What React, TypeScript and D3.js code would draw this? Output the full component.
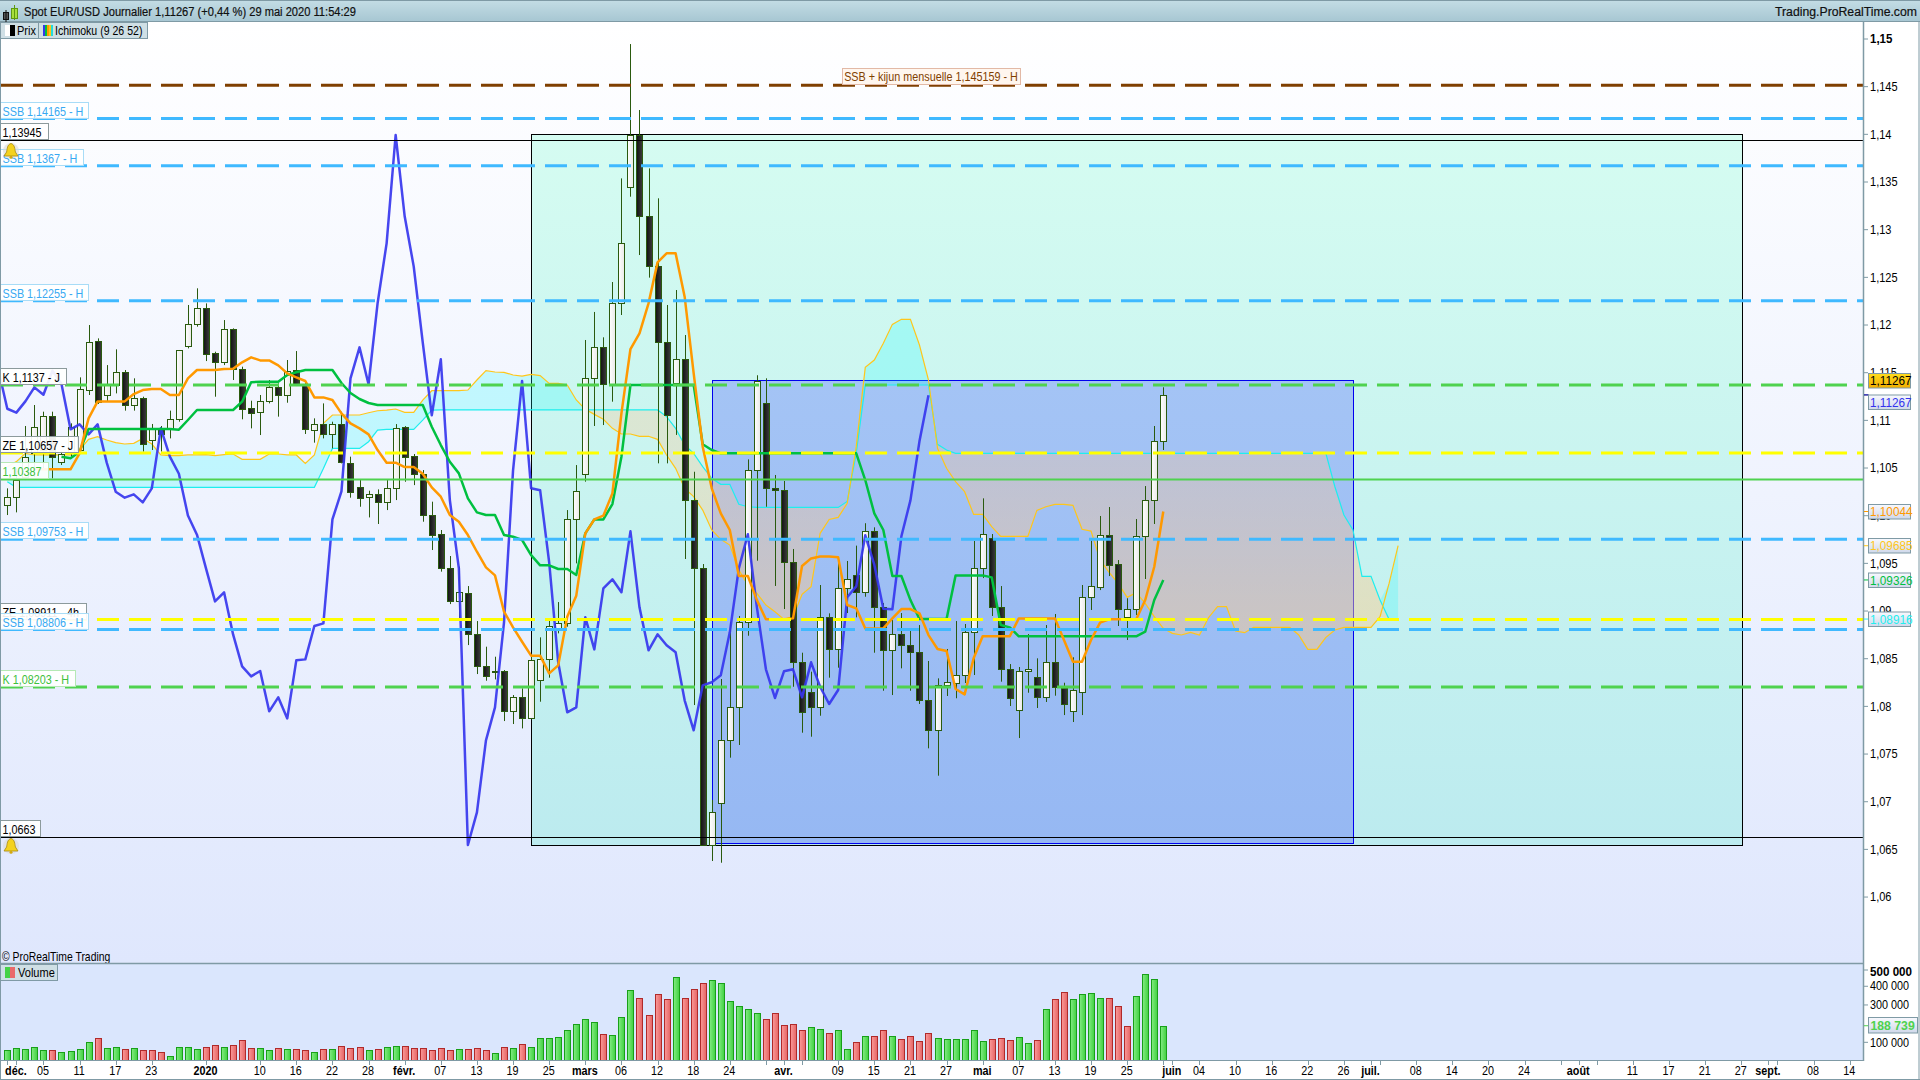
import React from "react";
import * as d3 from "d3";

const opens = [1.10109,1.10199,1.10409,1.10654,1.10689,1.11046,1.10563,1.10654,1.10689,1.11318,1.11829,1.11266,1.11371,1.11511,1.11158,1.11231,1.10794,1.10916,1.10909,1.11011,1.11783,1.12007,1.12175,1.11703,1.11609,1.11955,1.11535,1.11126,1.11091,1.11199,1.11346,1.11269,1.11528,1.11381,1.10902,1.10958,1.10853,1.10958,1.10549,1.10297,1.10192,1.10224,1.1014,1.10287,1.10926,1.10622,1.1044,1.10003,1.09804,1.09448,1.09101,1.09185,1.08755,1.0842,1.08364,1.08367,1.07948,1.08095,1.07874,1.08273,1.08493,1.08801,1.08871,1.09961,1.10434,1.11441,1.11766,1.11378,1.12227,1.13444,1.13993,1.1314,1.12615,1.11818,1.11388,1.1164,1.10165,1.09448,1.06546,1.06983,1.07644,1.0799,1.08882,1.10476,1.11179,1.10287,1.10266,1.09511,1.08462,1.08148,1.0799,1.08934,1.08598,1.09238,1.09375,1.09197,1.09836,1.09039,1.08588,1.08756,1.08641,1.08567,1.08064,1.07749,1.08221,1.08242,1.08326,1.08777,1.09448,1.09763,1.09039,1.08389,1.07962,1.08368,1.08305,1.08095,1.08462,1.0819,1.07951,1.08154,1.09144,1.09255,1.09794,1.0949,1.08941,1.09018,1.09784,1.10161,1.1078];
const highs = [1.10287,1.10497,1.10941,1.11161,1.11091,1.11091,1.10672,1.10969,1.11451,1.12,1.1186,1.1158,1.11745,1.11528,1.11441,1.11248,1.10962,1.10941,1.11102,1.11738,1.1221,1.12385,1.12227,1.1172,1.12052,1.11965,1.11563,1.11206,1.11266,1.11423,1.11388,1.11633,1.11727,1.11406,1.11021,1.11178,1.10986,1.11091,1.10619,1.10381,1.10262,1.10276,1.10374,1.10961,1.1094,1.10647,1.10479,1.10147,1.0985,1.09577,1.09465,1.09262,1.08895,1.08626,1.08521,1.08381,1.08119,1.08189,1.08521,1.08724,1.08906,1.09094,1.10059,1.10531,1.11843,1.12137,1.11871,1.12451,1.13538,1.14947,1.14255,1.13643,1.13329,1.1221,1.12367,1.11895,1.10461,1.09493,1.07019,1.08287,1.08885,1.08948,1.10591,1.11473,1.11441,1.10427,1.10364,1.09651,1.08563,1.08364,1.09273,1.08976,1.09535,1.09525,1.09686,1.09921,1.09878,1.09084,1.08906,1.08979,1.08801,1.08853,1.08476,1.08294,1.08602,1.08895,1.08864,1.09735,1.10182,1.09808,1.09262,1.08444,1.08413,1.08759,1.08504,1.08853,1.08969,1.08248,1.08515,1.09273,1.09738,1.09997,1.10091,1.09535,1.09134,1.09965,1.10311,1.10941,1.11347];
const lows = [1.10007,1.10035,1.10374,1.10409,1.10479,1.10392,1.10532,1.10619,1.10654,1.11266,1.11172,1.11196,1.11283,1.11102,1.11102,1.10672,1.10689,1.10672,1.10811,1.10986,1.11755,1.11983,1.11622,1.11248,1.1158,1.11423,1.11011,1.10916,1.10846,1.11178,1.11039,1.11185,1.1136,1.10857,1.10766,1.10811,1.10706,1.10549,1.10189,1.10094,1.09982,1.09913,1.10059,1.10164,1.10356,1.10321,1.09937,1.0964,1.09413,1.09073,1.08906,1.08643,1.08339,1.08269,1.08283,1.07846,1.07815,1.07769,1.07864,1.08049,1.08301,1.08766,1.08836,1.095,1.10357,1.10941,1.10951,1.11196,1.12105,1.13346,1.12734,1.12497,1.10549,1.10549,1.10847,1.09546,1.08014,1.06546,1.06378,1.0636,1.07462,1.07595,1.08741,1.09528,1.10094,1.09263,1.09021,1.08206,1.07724,1.07682,1.07902,1.08301,1.08406,1.08979,1.08934,1.0915,1.08563,1.08164,1.08119,1.08399,1.08164,1.08025,1.0756,1.07273,1.08109,1.08085,1.08245,1.08329,1.09346,1.08948,1.08259,1.08004,1.07668,1.08143,1.07983,1.08046,1.08112,1.07909,1.07836,1.07909,1.09011,1.0922,1.09367,1.08843,1.08696,1.08958,1.09336,1.09913,1.10689];
const closes = [1.10193,1.10374,1.10619,1.10934,1.11046,1.10619,1.10647,1.10927,1.11325,1.11825,1.11192,1.11381,1.11511,1.11158,1.11231,1.10749,1.10909,1.10853,1.11011,1.11734,1.12007,1.12175,1.11699,1.11609,1.11955,1.11535,1.11122,1.11081,1.11199,1.11346,1.11269,1.11521,1.11381,1.10906,1.10958,1.10853,1.10958,1.10559,1.10252,1.10189,1.10224,1.1014,1.10287,1.10916,1.10619,1.1044,1.10003,1.09801,1.09448,1.09101,1.09196,1.08755,1.0842,1.08315,1.08371,1.07948,1.08095,1.07874,1.08483,1.08493,1.08843,1.08871,1.09961,1.10255,1.11441,1.11766,1.11378,1.12227,1.12857,1.13993,1.1314,1.12615,1.11818,1.11053,1.1164,1.10165,1.09448,1.06546,1.06889,1.07644,1.0799,1.08882,1.10476,1.11413,1.10287,1.10266,1.09511,1.08462,1.07938,1.0799,1.08934,1.08598,1.09238,1.09333,1.09197,1.09836,1.09039,1.08588,1.08756,1.08641,1.08567,1.08064,1.07749,1.08221,1.08253,1.08326,1.08777,1.09448,1.09805,1.09039,1.08389,1.08088,1.08368,1.08389,1.08095,1.08462,1.08206,1.08025,1.08172,1.09144,1.09259,1.09794,1.09486,1.09024,1.09018,1.09784,1.10161,1.1078,1.11263];

const tenkan = [1.10486,1.10486,1.10486,1.10486,1.10486,1.10654,1.11021,1.11199,1.11199,1.11199,1.11199,1.11276,1.11318,1.11329,1.11329,1.11266,1.11266,1.11441,1.11528,1.11528,1.11528,1.11539,1.11542,1.11609,1.11661,1.11629,1.11629,1.11577,1.11493,1.11451,1.11413,1.11241,1.11241,1.11213,1.11073,1.10968,1.10916,1.10853,1.10689,1.10556,1.10556,1.1051,1.1051,1.1044,1.10297,1.10199,1.10007,1.09937,1.09797,1.09622,1.09458,1.09374,1.08993,1.08829,1.08678,1.08532,1.08532,1.08346,1.0843,1.08941,1.09161,1.09815,1.09961,1.1,1.10234,1.11074,1.11748,1.11913,1.12227,1.12657,1.12752,1.12752,1.12297,1.11493,1.10724,1.10287,1.10024,1.0985,1.09367,1.09367,1.09115,1.08913,1.08913,1.08913,1.08923,1.09472,1.09552,1.09573,1.09573,1.09563,1.09063,1.09028,1.08818,1.08818,1.08818,1.08923,1.09021,1.09021,1.08976,1.08748,1.08602,1.08581,1.08182,1.08126,1.08504,1.08735,1.08735,1.08735,1.08735,1.08923,1.08923,1.08923,1.08923,1.08923,1.08696,1.08469,1.08469,1.08696,1.08878,1.08913,1.08913,1.08913,1.08913,1.09116,1.09465,1.10044];
const tenkanStart = 3;
const kijun = [1.10619,1.10602,1.10672,1.10909,1.10909,1.10909,1.10909,1.10909,1.10909,1.10909,1.10909,1.10909,1.10909,1.10902,1.11004,1.11109,1.11109,1.11109,1.11109,1.11109,1.11196,1.11399,1.11406,1.11406,1.11406,1.11476,1.11504,1.11528,1.11528,1.11528,1.11528,1.11392,1.11287,1.11224,1.11182,1.11161,1.11161,1.11161,1.11161,1.11161,1.11161,1.10933,1.10741,1.10566,1.10444,1.10182,1.10035,1.10007,1.10007,1.09797,1.0978,1.09745,1.09587,1.09479,1.09479,1.09441,1.09441,1.09378,1.09815,1.09961,1.09961,1.10122,1.10619,1.11371,1.11371,1.11371,1.11371,1.11371,1.11371,1.11371,1.11371,1.10749,1.10689,1.10654,1.10654,1.10654,1.10654,1.10654,1.10654,1.10654,1.10654,1.10654,1.10654,1.10654,1.10654,1.10654,1.10654,1.10654,1.10654,1.10374,1.10024,1.0985,1.09367,1.09367,1.09115,1.08916,1.08916,1.08916,1.08916,1.09374,1.09374,1.09374,1.09374,1.09353,1.08853,1.08829,1.08735,1.08735,1.08735,1.08735,1.08735,1.08735,1.08735,1.08735,1.08735,1.08735,1.08735,1.08735,1.08735,1.08735,1.08783,1.09116,1.09326];
const kijunStart = 6;
const spanA = [1.10514,1.10567,1.10654,1.10637,1.10637,1.10637,1.10637,1.10637,1.10689,1.10801,1.10829,1.10794,1.10766,1.10752,1.10759,1.10811,1.10752,1.10637,1.1063,1.1063,1.10637,1.10637,1.1064,1.1063,1.1064,1.10647,1.10591,1.10591,1.10591,1.10647,1.10647,1.10637,1.10637,1.10549,1.10637,1.10968,1.11056,1.11056,1.11056,1.11056,1.1108,1.11101,1.11108,1.11119,1.11084,1.11084,1.11213,1.11311,1.11311,1.11311,1.11311,1.11318,1.11423,1.11521,1.11507,1.11504,1.11476,1.11465,1.11483,1.11469,1.11388,1.11388,1.11371,1.11214,1.11116,1.11063,1.11011,1.10916,1.10857,1.10857,1.10833,1.10833,1.10801,1.10637,1.10497,1.10287,1.102,1.10059,1.0985,1.09752,1.09692,1.0943,1.09273,1.09185,1.09063,1.08993,1.08913,1.08941,1.09175,1.09255,1.09815,1.09961,1.09982,1.10129,1.10724,1.11556,1.11633,1.11808,1.12007,1.1206,1.1206,1.1179,1.11423,1.10707,1.10497,1.10357,1.10252,1.10014,1.10014,1.09885,1.09783,1.09783,1.09783,1.09783,1.10056,1.10094,1.10119,1.10119,1.10108,1.09857,1.09839,1.09535,1.09406,1.0929,1.09143,1.09192,1.09081,1.08941,1.08818,1.08766,1.08749,1.08776,1.08749,1.0893,1.09046,1.09046,1.0879,1.08773,1.08829,1.08829,1.08829,1.08829,1.08829,1.08749,1.08598,1.08598,1.08724,1.08801,1.08829,1.08829,1.08829,1.08829,1.08941,1.0929,1.09685];
const spanB = [1.10357,1.10298,1.10298,1.10298,1.10298,1.10298,1.10298,1.10298,1.10298,1.10298,1.10298,1.10298,1.10298,1.10298,1.10298,1.10298,1.10298,1.10298,1.10298,1.10298,1.10298,1.10298,1.10298,1.10298,1.10298,1.10298,1.10298,1.10298,1.10298,1.10298,1.10298,1.10298,1.10298,1.10298,1.10298,1.10496,1.10706,1.10706,1.10706,1.10706,1.10776,1.10898,1.10905,1.10905,1.10905,1.10905,1.11003,1.11108,1.11109,1.11109,1.11109,1.11109,1.11109,1.11109,1.11109,1.11109,1.11109,1.11109,1.11109,1.11109,1.11109,1.11109,1.11109,1.11109,1.11109,1.11109,1.11109,1.11109,1.11109,1.11109,1.11109,1.11109,1.11109,1.11039,1.10916,1.10742,1.10654,1.10514,1.10392,1.10329,1.10329,1.10119,1.10094,1.10087,1.10087,1.10087,1.10087,1.10087,1.10087,1.10087,1.10087,1.10087,1.10087,1.1015,1.10654,1.11371,1.11371,1.11371,1.11371,1.11371,1.11371,1.11371,1.11371,1.10749,1.10689,1.10654,1.10654,1.10654,1.10654,1.10654,1.10654,1.10654,1.10654,1.10654,1.10654,1.10654,1.10654,1.10654,1.10654,1.10654,1.10654,1.10654,1.10654,1.10654,1.10654,1.10654,1.10654,1.10654,1.10654,1.10654,1.10654,1.10654,1.10654,1.10654,1.10654,1.10654,1.10654,1.10654,1.10654,1.10654,1.10654,1.10654,1.10654,1.10654,1.10654,1.10654,1.10654,1.10304,1.10007,1.0985,1.09364,1.09364,1.09116,1.08913,1.08916];

const volumes = [59,69,64,75,59,59,48,53,64,102,123,69,75,64,69,59,59,48,27,75,75,64,75,86,75,86,112,69,69,59,69,64,64,59,48,64,64,80,69,75,59,64,75,80,80,69,69,59,69,59,64,64,69,59,43,75,69,91,75,123,123,128,166,198,225,208,144,139,235,380,337,246,358,331,449,337,385,417,433,417,321,294,278,257,225,257,192,198,166,182,171,150,166,64,102,134,134,166,134,118,134,107,150,123,118,118,118,166,107,118,123,112,128,96,112,278,331,369,331,358,364,337,337,294,187,347,465,438,189];
const volumeUp = [1,1,1,1,1,0,1,1,1,1,0,1,1,0,1,0,0,0,1,1,1,1,0,0,1,0,0,0,1,1,0,1,0,0,1,0,1,0,0,0,1,0,1,1,0,0,0,0,0,0,1,0,0,0,1,0,1,0,1,1,1,1,1,1,1,1,0,1,1,1,0,0,0,0,1,0,0,0,1,1,1,1,1,1,0,0,0,0,0,1,1,0,1,1,0,1,0,0,1,0,0,0,0,1,1,1,1,1,1,0,0,0,1,1,0,1,0,0,1,1,1,1,0,0,0,1,1,1,1];

const priceTicks = [1.15,1.145,1.14,1.135,1.13,1.125,1.12,1.115,1.11,1.105,1.1,1.095,1.09,1.085,1.08,1.075,1.07,1.065,1.06];
const priceTickLabels = ["1,15","1,145","1,14","1,135","1,13","1,125","1,12","1,115","1,11","1,105","1,10","1,095","1,09","1,085","1,08","1,075","1,07","1,065","1,06"];
const volumeTicks = [400,300,100];
const volumeTickLabels = ["400 000","300 000","100 000"];
const dateSlots = [1,4,8,12,16,22,28,32,36,40,44,48,52,56,60,64,68,72,76,80,86,92,96,100,104,108,112,116,120,124,129,132,136,140,144,148,151,156,160,164,168,174,180,184,188,192,195,200,204];
const dateLabels = ["déc.","05","11","17","23","2020","10","16","22","28","févr.","07","13","19","25","mars","06","12","18","24","avr.","09","15","21","27","mai","07","13","19","25","juin","04","10","16","22","26","juil.","08","14","20","24","août","11","17","21","27","sept.","08","14"];
const boldDates = ["déc.","2020","févr.","mars","avr.","mai","juin","juil.","août","sept."];
const extraDateTicks = [0,84,88,128,152,172,176,196];

const levels = [
  { value: 1.145159, color: "#7f3f00" },
  { value: 1.14165, color: "#3fb9ff" },
  { value: 1.1367, color: "#3fb9ff" },
  { value: 1.12255, color: "#3fb9ff" },
  { value: 1.1137, color: "#4fd24f" },
  { value: 1.10657, color: "#ffff00" },
  { value: 1.09753, color: "#3fb9ff" },
  { value: 1.08911, color: "#ffff00" },
  { value: 1.08806, color: "#3fb9ff" },
  { value: 1.08203, color: "#4fd24f" },
];
const solidLevels = [
  { value: 1.13945, color: "#000000", w: 1 },
  { value: 1.0663, color: "#000000", w: 1 },
  { value: 1.10387, color: "#4fd24f", w: 2 },
];
const leftLabels = [
  { text: "ZE 1,08911 - 4h", w: 86, bottom: 1.08911, color: "#000", border: "#8c9a9c" },
  { text: "SSB 1,14165 - H", w: 88, bottom: 1.14165, color: "#38a9f2", border: "#a8dcf7" },
  { text: "1,13945", w: 48, bottom: 1.13945, color: "#000", border: "#8c9a9c" },
  { text: "SSB 1,1367 - H", w: 83, bottom: 1.1367, color: "#38a9f2", border: "#a8dcf7" },
  { text: "SSB 1,12255 - H", w: 88, bottom: 1.12255, color: "#38a9f2", border: "#a8dcf7" },
  { text: "K 1,1137 - J", w: 66, bottom: 1.1137, color: "#000", border: "#8c9a9c" },
  { text: "ZE 1,10657 - J", w: 78, bottom: 1.10657, color: "#000", border: "#8c9a9c" },
  { text: "1,10387", w: 48, bottom: 1.10387, color: "#3cc03c", border: "#b5e8b5" },
  { text: "SSB 1,09753 - H", w: 88, bottom: 1.09753, color: "#38a9f2", border: "#a8dcf7" },
  { text: "SSB 1,08806 - H", w: 88, bottom: 1.08806, color: "#38a9f2", border: "#a8dcf7" },
  { text: "K 1,08203 - H", w: 75, bottom: 1.08203, color: "#3cc03c", border: "#b5e8b5" },
  { text: "1,0663", w: 40, bottom: 1.0663, color: "#000", border: "#8c9a9c" },
];
const valueBoxes = [
  { text: "1,11267", value: 1.11267, top: 373, color: "#000", fill: "url(#goldBox)" },
  { text: "1,11267", value: 1.11267, top: 394.5, color: "#3333ee", fill: "url(#paleBox)" },
  { text: "1,10044", value: 1.10044, top: 504, color: "#ff9900", fill: "url(#paleBox)" },
  { text: "1,09685", value: 1.09685, top: 538, color: "#ffc61a", fill: "url(#paleBox)" },
  { text: "1,09326", value: 1.09326, top: 572.5, color: "#00c040", fill: "url(#paleBox)" },
  { text: "1,08916", value: 1.08916, top: 611.5, color: "#22eeee", fill: "url(#paleBox)" },
];

const FONT = "'Liberation Sans', Arial, sans-serif";
const GRAY = "#7f9aa5";

const x = d3.scaleLinear().domain([0, 128]).range([7.3, 1163.3]);
const y = d3.scaleLinear().domain([1.15, 1.06]).range([39, 897.06]);
const yVol = d3.scaleLinear().domain([0, 500]).range([1061, 967.6]);
const px = (v: number) => Math.round(x(v)) + 0.5;
const snap = (v: number) => Math.floor(x(v)) + 0.5;
const py = (v: number) => Math.round(y(v)) + 0.5;

function T({ x: tx, y: ty, s, fill = "#000", bold = false, anchor = "start", sx = 0.92, size = 12 }: any) {
  return (
    <text
      transform={`translate(${tx},${ty}) scale(${sx},1)`}
      fontFamily={FONT}
      fontSize={size}
      fill={fill}
      fontWeight={bold ? 700 : 400}
      textAnchor={anchor}
      dominantBaseline="central"
    >
      {s}
    </text>
  );
}

function Bell({ cx, cy }: { cx: number; cy: number }) {
  return (
    <g transform={`translate(${cx},${cy})`}>
      <circle r={8} fill="#d8d8d8" opacity={0.6} />
      <path d="M0,-7.5 C-3.8,-6.5 -3.8,-2 -4.4,1 L-7,5 L7,5 L4.4,1 C3.8,-2 3.8,-6.5 0,-7.5 Z" fill="#f4d21f" stroke="#a88a10" strokeWidth={0.8} />
      <circle cy={6.2} r={1.5} fill="#d4a90f" />
    </g>
  );
}

export default function App() {
  const series = (vals: number[], start: number) =>
    d3.line<number>().x((_, i) => x(i + start)).y((d) => y(d))(vals) || "";
  const bull = d3.area<number>().x((_, i) => x(i)).y0((_, i) => y(spanB[i])).y1((d, i) => y(Math.max(d, spanB[i])))(spanA) || "";
  const bear = d3.area<number>().x((_, i) => x(i)).y0((_, i) => y(spanB[i])).y1((d, i) => y(Math.min(d, spanB[i])))(spanA) || "";

  const teal = { x0: snap(58), x1: snap(192.1), y0: py(1.14), y1: py(1.06543) };
  const blue = { x0: snap(78.1), x1: snap(149.05), y0: py(1.1142), y1: py(1.06564) };

  return (
    <svg width={1920} height={1080} viewBox="0 0 1920 1080" style={{ position: "absolute", left: 0, top: 0, display: "block" }}>
      <defs>
        <linearGradient id="panelBg" x1="0" y1="0" x2="0" y2="1">
          <stop offset="0" stopColor="#ffffff" />
          <stop offset="1" stopColor="#dfe7fd" />
        </linearGradient>
        <linearGradient id="titleBg" x1="0" y1="0" x2="0" y2="1">
          <stop offset="0" stopColor="#c4dde5" />
          <stop offset="1" stopColor="#a6c6d2" />
        </linearGradient>
        <linearGradient id="tealBg" x1="0" y1="0" x2="0" y2="1">
          <stop offset="0" stopColor="#d5fcf1" />
          <stop offset="1" stopColor="#bcebef" />
        </linearGradient>
        <linearGradient id="blueBg" x1="0" y1="0" x2="0" y2="1">
          <stop offset="0" stopColor="#a4c4f5" />
          <stop offset="1" stopColor="#96b8f3" />
        </linearGradient>
        <linearGradient id="bearCloud" gradientUnits="userSpaceOnUse" x1="0" y1="450" x2="0" y2="660">
          <stop offset="0" stopColor="#ffc490" stopOpacity={0.3} />
          <stop offset="1" stopColor="#ffcf8a" stopOpacity={0.5} />
        </linearGradient>
        <linearGradient id="whiteBody" x1="0" y1="0" x2="1" y2="0">
          <stop offset="0" stopColor="#ffffff" />
          <stop offset="1" stopColor="#e9e9e6" />
        </linearGradient>
        <linearGradient id="blackBody" x1="0" y1="0" x2="1" y2="0">
          <stop offset="0" stopColor="#111111" />
          <stop offset="1" stopColor="#3d3d3d" />
        </linearGradient>
        <linearGradient id="greenVol" x1="0" y1="0" x2="1" y2="0">
          <stop offset="0" stopColor="#84ec84" />
          <stop offset="1" stopColor="#3fd03f" />
        </linearGradient>
        <linearGradient id="redVol" x1="0" y1="0" x2="1" y2="0">
          <stop offset="0" stopColor="#fb9a9a" />
          <stop offset="1" stopColor="#e56464" />
        </linearGradient>
        <linearGradient id="goldBox" x1="0" y1="0" x2="0" y2="1">
          <stop offset="0" stopColor="#ffdc1e" />
          <stop offset="1" stopColor="#f2ae00" />
        </linearGradient>
        <linearGradient id="paleBox" x1="0" y1="0" x2="0" y2="1">
          <stop offset="0" stopColor="#f8f9fe" />
          <stop offset="1" stopColor="#cfd8ea" />
        </linearGradient>
        <clipPath id="plot">
          <rect x={1} y={22} width={1862} height={941} />
        </clipPath>
      </defs>

      <rect width={1920} height={1080} fill="#ffffff" />
      <rect x={1} y={22} width={1862} height={941} fill="url(#panelBg)" />
      <rect x={1} y={963} width={1862} height={98} fill="#dae6fd" />

      <g clipPath="url(#plot)">
        <rect x={teal.x0} y={teal.y0} width={teal.x1 - teal.x0} height={teal.y1 - teal.y0} fill="url(#tealBg)" stroke="#000" strokeWidth={1} />
        <rect x={blue.x0} y={blue.y0} width={blue.x1 - blue.x0} height={blue.y1 - blue.y0} fill="url(#blueBg)" stroke="#0000ee" strokeWidth={1} />
        <path d={bull} fill="#00ffff" fillOpacity={0.2} />
        <path d={bear} fill="url(#bearCloud)" />
        <path d={series(spanB, 0)} fill="none" stroke="#1eeeee" strokeWidth={1.2} />
        <path d={series(spanA, 0)} fill="none" stroke="#ffc61a" strokeWidth={1.2} />

        {closes.map((c, i) => {
          const o = opens[i];
          const up = c >= o;
          const top = Math.round(y(Math.max(o, c)));
          const bot = Math.round(y(Math.min(o, c)));
          const cx = px(i);
          return (
            <g key={i}>
              <line x1={cx} x2={cx} y1={y(highs[i])} y2={y(lows[i])} stroke="#2a5a0e" strokeWidth={1} />
              <rect x={cx - 3} y={top + 0.5} width={6} height={Math.max(1, bot - top)} fill={up ? "url(#whiteBody)" : "url(#blackBody)"} stroke="#2a5a0e" strokeWidth={1} />
            </g>
          );
        })}

        <path d={series(closes, -26)} fill="none" stroke="#3636ee" strokeOpacity={0.92} strokeWidth={2.5} strokeLinejoin="round" />
        <path d={series(kijun, kijunStart)} fill="none" stroke="#00c040" strokeWidth={2.5} strokeLinejoin="round" />
        <path d={series(tenkan, tenkanStart)} fill="none" stroke="#ff9900" strokeWidth={2.5} strokeLinejoin="round" />

        {levels.map((l, i) => (
          <line key={i} x1={1} x2={1863} y1={y(l.value)} y2={y(l.value)} stroke={l.color} strokeWidth={3} strokeDasharray="22 10" />
        ))}
        {solidLevels.map((l, i) => (
          <line key={i} x1={1} x2={1863} y1={py(l.value)} y2={py(l.value)} stroke={l.color} strokeWidth={l.w} />
        ))}
      </g>

      {leftLabels.map((l, i) => {
        const b = Math.round(y(l.bottom));
        return (
          <g key={i}>
            <rect x={0.5} y={b - 16.5} width={l.w} height={16} fill="#ffffff" fillOpacity={0.92} stroke={l.border} strokeWidth={1} />
            <T x={2.5} y={b - 8} s={l.text} fill={l.color} size={12.4} sx={0.87} />
          </g>
        );
      })}
      <rect x={842.5} y={68.5} width={178} height={16} fill="#fff6ee" stroke="#e2b9a6" strokeWidth={1} />
      <T x={931} y={77} s="SSB  + kijun mensuelle 1,145159 - H" fill="#7f3f00" anchor="middle" size={12} sx={0.9} />
      <Bell cx={11} cy={151} />
      <Bell cx={11} cy={846} />

      <T x={2} y={957} s="© ProRealTime Trading" size={12} sx={0.866} />

      {/* title bar */}
      <rect x={0} y={0} width={1920} height={22} fill="url(#titleBg)" />
      <line x1={0} x2={1920} y1={0.5} y2={0.5} stroke={GRAY} />
      <line x1={0} x2={1920} y1={21.5} y2={21.5} stroke={GRAY} />
      <rect x={3.5} y={12.5} width={5} height={7} fill="#555" stroke="#111" />
      <line x1={6} x2={6} y1={10} y2={22} stroke="#111" />
      <rect x={11.5} y={8.5} width={6} height={10} fill="#a8e03c" stroke="#5f9a10" />
      <line x1={14.5} x2={14.5} y1={5} y2={20} stroke="#5f9a10" />
      <text x={24} y={16} fontFamily={FONT} fontSize={12.5} fill="#101010" textLength={332} lengthAdjust="spacingAndGlyphs" stroke="#101010" strokeWidth={0.2}>
        Spot EUR/USD Journalier 1,11267 (+0,44 %) 29 mai 2020 11:54:29
      </text>
      <text x={1775} y={16} fontFamily={FONT} fontSize={12.5} fill="#101010" textLength={142} lengthAdjust="spacingAndGlyphs" stroke="#101010" strokeWidth={0.2}>
        Trading.ProRealTime.com
      </text>

      {/* legend tabs */}
      <rect x={0.5} y={22.5} width={38} height={16} fill="#cfdfe5" stroke={GRAY} />
      <rect x={38.5} y={22.5} width={109} height={16} fill="#cfdfe5" stroke={GRAY} />
      <rect x={5} y={25} width={5} height={11} fill="#fff" />
      <rect x={10} y={25} width={5} height={11} fill="#000" />
      <T x={17} y={30.5} s="Prix" size={12} />
      {["#3636ee", "#00c040", "#ff9900", "#ffc61a", "#22dddd"].map((c, i) => (
        <rect key={c} x={43 + i * 2} y={25} width={2} height={11} fill={c} />
      ))}
      <T x={55} y={30.5} s="Ichimoku (9 26 52)" size={12} sx={0.88} />

      {/* price axis */}
      <line x1={1863.5} x2={1863.5} y1={22} y2={1061} stroke={GRAY} strokeWidth={1.5} />
      <line x1={1919} x2={1919} y1={22} y2={1080} stroke={GRAY} strokeWidth={1} />
      {priceTicks.map((t, i) => (
        <g key={i}>
          <line x1={1864} x2={1868} y1={y(t)} y2={y(t)} stroke={GRAY} />
          <T x={1870} y={y(t)} s={priceTickLabels[i]} bold={i === 0} size={i === 0 ? 12.5 : 12} />
        </g>
      ))}
      {valueBoxes.map((b, i) => (
        <g key={i}>
          <line x1={1864} x2={1868.5} y1={y(b.value)} y2={y(b.value)} stroke={b.color} />
          <rect x={1868.5} y={b.top + 0.5} width={42} height={14.5} fill={b.fill} stroke={GRAY} />
          <T x={1870} y={b.top + 8} s={b.text} fill={b.color} sx={0.95} size={12.4} />
        </g>
      ))}

      {/* volume pane */}
      <line x1={0} x2={1863} y1={963.5} y2={963.5} stroke={GRAY} strokeWidth={1.5} />
      {volumes.map((v, i) => (
        <rect
          key={i}
          x={px(i) - 3}
          y={Math.round(yVol(v)) + 0.5}
          width={6}
          height={1060 - Math.round(yVol(v))}
          fill={volumeUp[i] ? "url(#greenVol)" : "url(#redVol)"}
          stroke={volumeUp[i] ? "#18a018" : "#b02a2a"}
          strokeWidth={1}
        />
      ))}
      <rect x={0.5} y={964.5} width={57} height={16} fill="#cfdfe5" stroke={GRAY} />
      <rect x={5} y={967} width={5} height={11} fill="#46d246" />
      <rect x={10} y={967} width={5} height={11} fill="#ea6a6a" />
      <T x={18} y={973} s="Volume" size={12} />

      <line x1={1864} x2={1868} y1={970} y2={970} stroke={GRAY} />
      <T x={1870} y={971.5} s="500 000" bold size={12} sx={0.97} />
      {volumeTicks.map((t, i) => (
        <g key={t}>
          <line x1={1864} x2={1868} y1={yVol(t)} y2={yVol(t)} stroke={GRAY} />
          <T x={1870} y={yVol(t)} s={volumeTickLabels[i]} sx={0.9} />
        </g>
      ))}
      <line x1={1864} x2={1868.5} y1={yVol(188.739)} y2={yVol(188.739)} stroke="#4fd24f" />
      <rect x={1868.5} y={1017.5} width={49} height={15.5} fill="url(#paleBox)" stroke={GRAY} />
      <T x={1870.5} y={1025.5} s="188 739" fill="#4fd24f" bold size={12.5} sx={0.98} />

      {/* date axis */}
      <line x1={0} x2={1863} y1={1060.5} y2={1060.5} stroke={GRAY} />
      <line x1={0} x2={1920} y1={1079.5} y2={1079.5} stroke={GRAY} />
      <line x1={0.5} x2={0.5} y1={22} y2={1080} stroke={GRAY} />
      {dateSlots.concat(extraDateTicks).map((s, i) => (
        <line key={i} x1={px(s)} x2={px(s)} y1={1061} y2={1065} stroke={GRAY} />
      ))}
      {dateLabels.map((d, i) => (
        <T key={i} x={x(dateSlots[i]) - 0.5} y={1071} s={d} anchor="middle" bold={boldDates.includes(d)} sx={0.9} />
      ))}
    </svg>
  );
}
